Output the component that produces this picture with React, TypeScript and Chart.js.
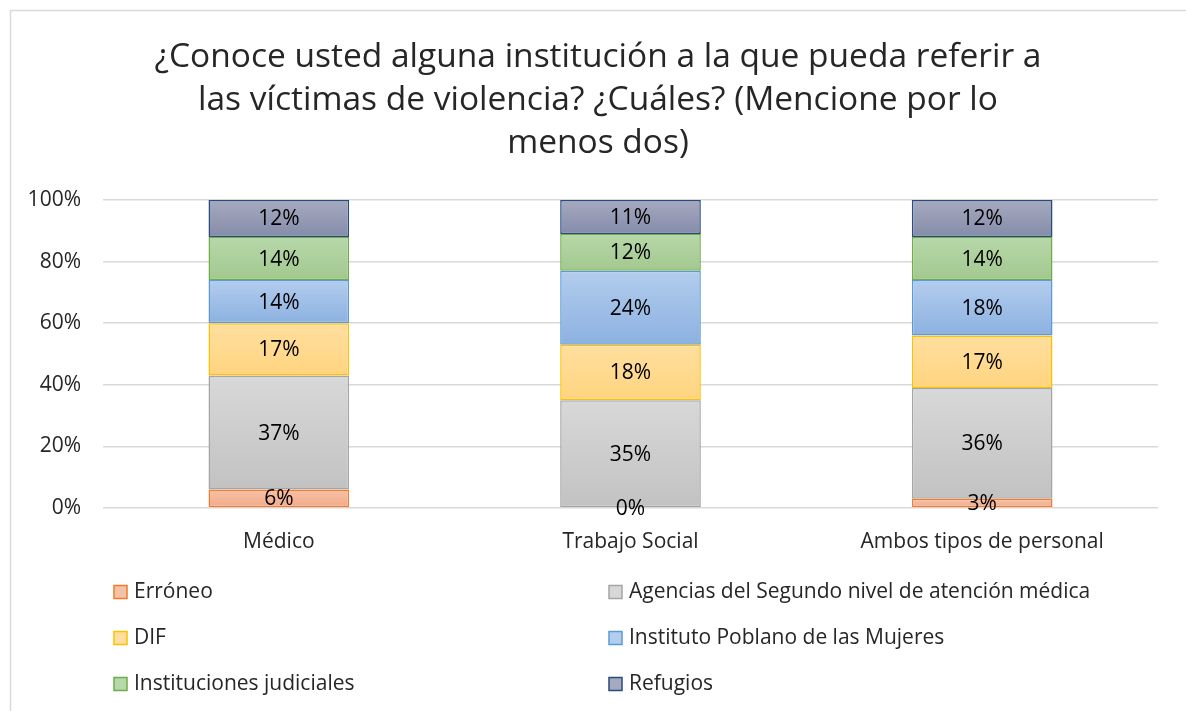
import React, { useEffect, useRef } from "react";
import { Chart, registerables } from "chart.js";

Chart.register(...registerables);

const categories = ["Médico", "Trabajo Social", "Ambos tipos de personal"];
const seriesNames = [
  "Erróneo",
  "Agencias del Segundo nivel de atención médica",
  "DIF",
  "Instituto Poblano de las Mujeres",
  "Instituciones judiciales",
  "Refugios",
];
const erroneo = [6, 0, 3];
const agencias = [37, 35, 36];
const dif = [17, 18, 17];
const ipm = [14, 24, 18];
const judiciales = [14, 12, 14];
const refugios = [12, 11, 12];
const yTicks = [0, 20, 40, 60, 80, 100];
const titleLines = [
  "¿Conoce usted alguna institución a la que pueda referir a",
  "las víctimas de violencia? ¿Cuáles? (Mencione por lo",
  "menos dos)",
];

const seriesValues = [erroneo, agencias, dif, ipm, judiciales, refugios];
const gradTop = ["#f7c1a6", "#d8d8d8", "#ffdf9f", "#b3cdee", "#b7d8aa", "#a6aac0"];
const gradBottom = ["#f2aa88", "#c2c2c2", "#ffd47f", "#8cb1e0", "#a2c88e", "#858ca9"];
const borders = ["#ed7d31", "#a5a5a5", "#ffc000", "#5b9bd5", "#70ad47", "#2a4a80"];

const FONT = "'Open Sans', Lato, sans-serif";

export default function App() {
  const ref = useRef<HTMLCanvasElement | null>(null);
  useEffect(() => {
    const canvas = ref.current;
    if (!canvas) return;

    const datasets = seriesNames.map((name, si) => ({
      label: name,
      data: seriesValues[si],
      borderColor: borders[si],
      borderWidth: 1.5,
      borderSkipped: false,
      barPercentage: 0.4,
      categoryPercentage: 1,
      backgroundColor: (ctx: any) => {
        const chart = ctx.chart;
        const y = chart.scales && chart.scales.y;
        if (!y || ctx.dataIndex == null || ctx.type !== "data") return gradTop[si];
        let start = 0;
        for (let k = 0; k < si; k++) start += seriesValues[k][ctx.dataIndex];
        const end = start + seriesValues[si][ctx.dataIndex];
        const y0 = y.getPixelForValue(end);
        const y1 = y.getPixelForValue(start);
        if (!isFinite(y0) || !isFinite(y1) || y0 === y1) return gradTop[si];
        const g = chart.ctx.createLinearGradient(0, y0, 0, y1);
        g.addColorStop(0, gradTop[si]);
        g.addColorStop(1, gradBottom[si]);
        return g;
      },
    }));

    const decor = {
      id: "decor",
      beforeDraw(chart: any) {
        const c = chart.ctx;
        c.save();
        c.fillStyle = "#ffffff";
        c.fillRect(0, 0, chart.width, chart.height);
        c.strokeStyle = "#d9d9d9";
        c.lineWidth = 1.5;
        c.strokeRect(10.5, 10.5, 1300, 900);
        c.fillStyle = "#262626";
        c.font = `33.5px ${FONT}`;
        c.textAlign = "center";
        c.textBaseline = "middle";
        titleLines.forEach((t, i) => c.fillText(t, 598, 57 + i * 43));
        // legend
        c.font = `21px ${FONT}`;
        c.textAlign = "left";
        seriesNames.forEach((name, i) => {
          const col = i % 2;
          const row = Math.floor(i / 2);
          const bx = col === 0 ? 114 : 609;
          const cy = 592 + row * 46;
          c.fillStyle = gradTop[i];
          c.fillRect(bx, cy - 6.5, 13, 13);
          c.strokeStyle = borders[i];
          c.lineWidth = 1.5;
          c.strokeRect(bx, cy - 6.5, 13, 13);
          c.fillStyle = "#262626";
          c.fillText(name, bx + 20, cy);
        });
        c.restore();
      },
      afterDatasetsDraw(chart: any) {
        const c = chart.ctx;
        c.save();
        c.font = `21px ${FONT}`;
        c.fillStyle = "#000000";
        c.textAlign = "center";
        c.textBaseline = "middle";
        chart.data.datasets.forEach((ds: any, di: number) => {
          const meta = chart.getDatasetMeta(di);
          meta.data.forEach((el: any, i: number) => {
            const v = ds.data[i];
            c.fillText(`${v}%`, el.x, (el.y + el.base) / 2 + 1);
          });
        });
        c.restore();
      },
    };

    const chart = new Chart(canvas, {
      type: "bar",
      data: { labels: categories, datasets },
      plugins: [decor],
      options: {
        responsive: false,
        animation: false,
        events: [],
        layout: { padding: { top: 200, left: 0, right: 28, bottom: 143 } },
        plugins: {
          legend: { display: false },
          title: { display: false },
          tooltip: { enabled: false },
        },
        scales: {
          x: {
            stacked: true,
            grid: { display: false },
            border: { display: false },
            ticks: { color: "#262626", font: { family: FONT, size: 21 }, padding: 13 },
            afterFit: (s: any) => {
              s.height = 60;
            },
          },
          y: {
            stacked: true,
            min: 0,
            max: 100,
            afterBuildTicks: (s: any) => {
              s.ticks = yTicks.map((v) => ({ value: v }));
            },
            grid: { color: "#d9d9d9", lineWidth: 1.5, drawTicks: false },
            border: { display: false },
            ticks: {
              color: "#262626",
              font: { family: FONT, size: 21 },
              padding: 22,
              callback: (v: any) => `${v}%`,
            },
            afterFit: (s: any) => {
              s.width = 103;
            },
          },
        },
      },
    });
    return () => chart.destroy();
  }, []);

  return (
    <div style={{ position: "absolute", left: 0, top: 0, width: 1186, height: 711 }}>
      <canvas ref={ref} width={1186} height={711} style={{ display: "block" }} />
    </div>
  );
}
